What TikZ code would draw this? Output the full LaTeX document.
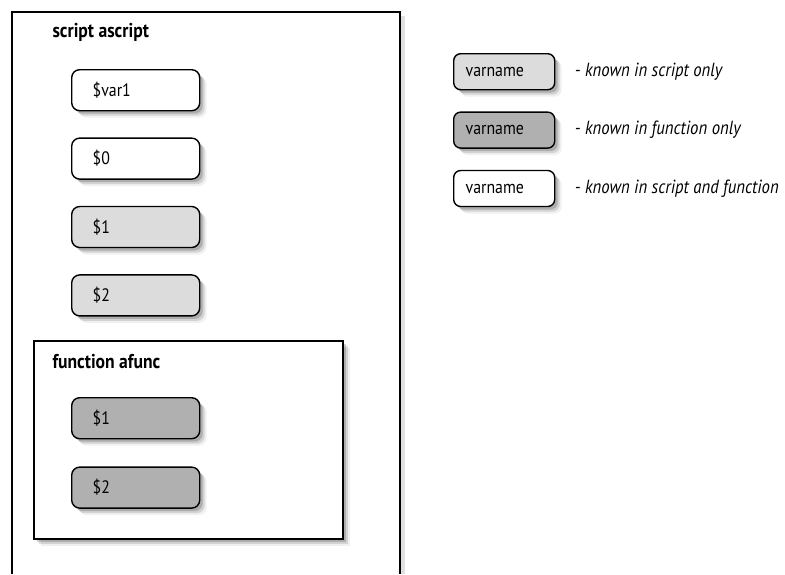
\documentclass[tikz,border=0pt]{standalone}
\usepackage{fontspec}
\setmainfont{PT Sans}[FakeStretch=0.88]
\usetikzlibrary{positioning,shadows}

\definecolor{scriptgray}{HTML}{DCDCDC}
\definecolor{funcgray}{HTML}{B0B0B0}

\tikzset{
  softshadow/.style={
    general shadow={shadow xshift=3pt, shadow yshift=-3pt, fill=black, opacity=.18},
    general shadow={shadow xshift=5pt, shadow yshift=-5pt, fill=black, opacity=.12},
    general shadow={shadow xshift=7pt, shadow yshift=-7pt, fill=black, opacity=.06}},
  varbox/.style={draw, line width=1.4pt, rounded corners=8pt, softshadow,
    minimum height=41pt, text width=86pt, inner xsep=21pt, align=left,
    font=\fontsize{18}{20}\selectfont, anchor=north west},
  keybox/.style={draw, line width=1.4pt, rounded corners=7pt, softshadow,
    minimum height=36pt, text width=77pt, inner xsep=12pt, align=left,
    font=\fontsize{18}{20}\selectfont, anchor=north west},
  keytext/.style={anchor=west, font=\itshape\fontsize{19}{21}\selectfont},
  title/.style={anchor=west, font=\bfseries\fontsize{20}{22}\selectfont},
  frame/.style={line width=2.4pt}
}

\begin{document}
\begin{tikzpicture}[x=1pt, y=-1pt]
  \useasboundingbox (0,0) rectangle (785,574);

  % script frame, open at the bottom
  \fill[black!12] (400,16) rectangle (405,574);
  \draw[frame] (12,574) -- (12,12) -- (400,12) -- (400,574);
  \node[title] (script) at (49,32) {script ascript};

  \node[varbox, fill=white] (var1) at (71,69) {\$var1};
  \node[varbox, fill=white, below=26pt of var1.south west, anchor=north west] (zero) {\$0};
  \node[varbox, fill=scriptgray, below=26pt of zero.south west, anchor=north west] (sone) {\$1};
  \node[varbox, fill=scriptgray, below=26pt of sone.south west, anchor=north west] (stwo) {\$2};

  % function frame
  \node[draw, frame, fill=white, softshadow, anchor=north west,
        minimum width=309pt, minimum height=198pt, inner sep=0pt] (func) at (33,340) {};
  \node[title] (ftitle) at (49,362) {function afunc};

  \node[varbox, fill=funcgray] (fone) at (71,397) {\$1};
  \node[varbox, fill=funcgray, below=27pt of fone.south west, anchor=north west] (ftwo) {\$2};

  % key
  \node[keybox, fill=scriptgray] (kscript) at (453,53) {varname};
  \node[keybox, fill=funcgray, below=21pt of kscript.south west, anchor=north west] (kfunc) {varname};
  \node[keybox, fill=white, below=21pt of kfunc.south west, anchor=north west] (kboth) {varname};

  \node[keytext, right=16pt of kscript.east] (tscript) {- known in script only};
  \node[keytext, right=16pt of kfunc.east] (tfunc) {- known in function only};
  \node[keytext, right=16pt of kboth.east] (tboth) {- known in script and function};
\end{tikzpicture}
\end{document}
